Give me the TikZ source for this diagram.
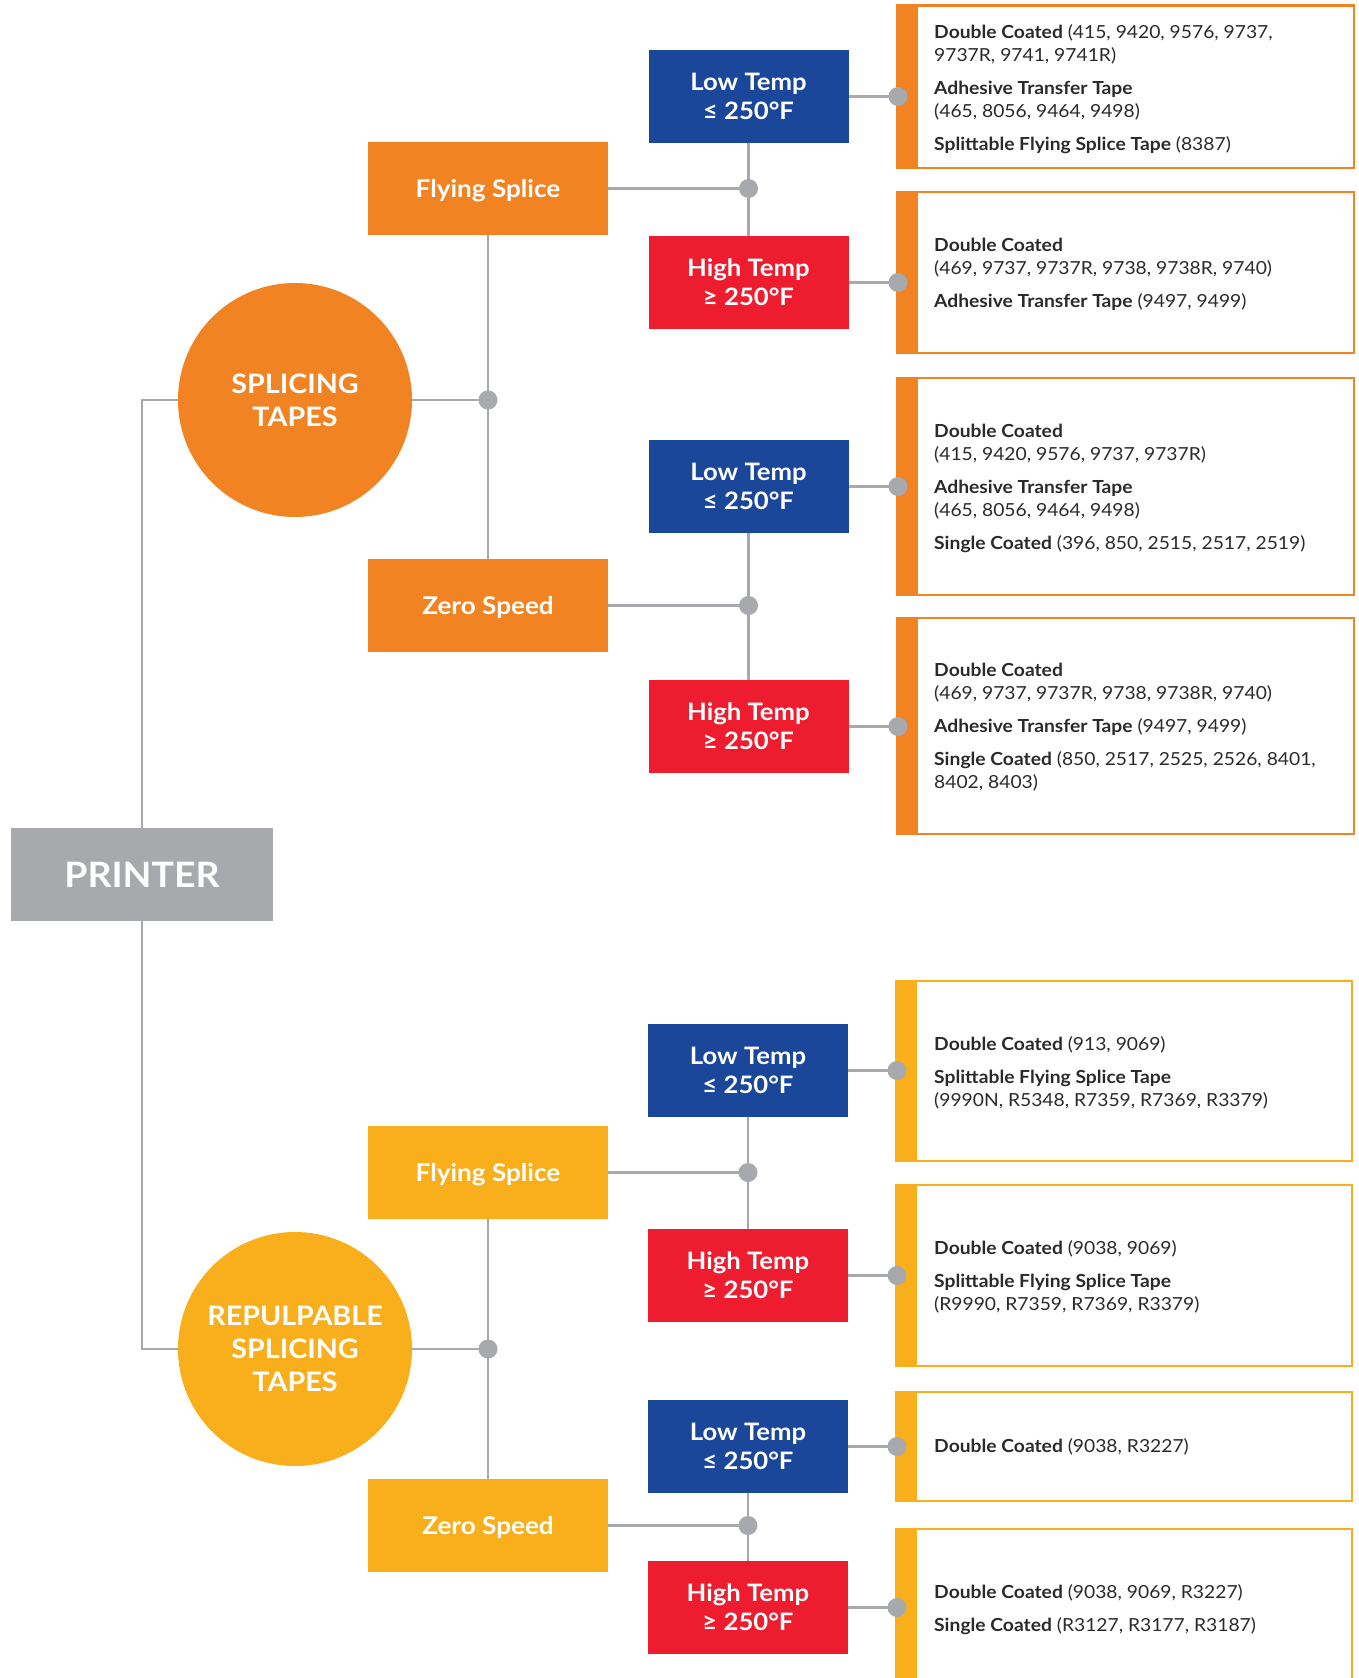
\documentclass[tikz,border=0pt]{standalone}
\usepackage{fontspec}
\setmainfont{Lato}[FakeStretch=1.07]
\definecolor{corange}{HTML}{F28322}
\definecolor{cyellow}{HTML}{F9AE1B}
\definecolor{cblue}{HTML}{1B479B}
\definecolor{cred}{HTML}{ED1C2E}
\definecolor{cgrey}{HTML}{A7A9AC}
\definecolor{ctext}{HTML}{2A2A2A}
\tikzset{
  tempbox/.style={fill=cblue, text=white, minimum width=200pt, minimum height=93pt, inner sep=0pt, align=center, font=\fontsize{24}{29}\selectfont\bfseries},
  hotbox/.style={tempbox, fill=cred},
  catbox/.style={fill=#1, text=white, minimum width=240pt, minimum height=93pt, inner sep=0pt, text depth=0pt, font=\fontsize{24.4}{28}\selectfont\bfseries},
  bigdisc/.style={circle, fill=#1, minimum size=234pt, inner sep=0pt, text=white, align=center, font=\fontsize{26.8}{33}\selectfont\bfseries},
  prbox/.style={fill=cgrey, text=white, minimum width=262pt, minimum height=93pt, inner sep=0pt, text depth=0pt, font=\fontsize{35}{40}\selectfont\bfseries},
  conn/.style={draw=cgrey, line width=2.7pt},
  gdot/.style={circle, fill=cgrey, minimum size=19pt, inner sep=0pt},
  ibox/.style={draw=#1, line width=2.5pt, inner sep=0pt},
  infotext/.style={anchor=west, align=left, text=ctext, inner sep=0pt, font=\fontsize{18}{23}\selectfont},
}
\begin{document}
\begin{tikzpicture}[x=1pt,y=-1pt]
\useasboundingbox (0,0) rectangle (1358,1678);
\clip (0,0) rectangle (1358,1678);

% ---------- info boxes ----------
\node[ibox=corange, minimum width=457pt, minimum height=162.5pt] (b1) at (1125.5,86.75) {};
\node[ibox=corange, minimum width=457pt, minimum height=161pt] (b2) at (1125.5,272.5) {};
\node[ibox=corange, minimum width=457pt, minimum height=217pt] (b3) at (1125.5,486.5) {};
\node[ibox=corange, minimum width=457pt, minimum height=216pt] (b4) at (1125.5,726) {};
\node[ibox=cyellow, minimum width=456pt, minimum height=180pt] (b5) at (1124,1071) {};
\node[ibox=cyellow, minimum width=456pt, minimum height=181pt] (b6) at (1124,1275.5) {};
\node[ibox=cyellow, minimum width=456pt, minimum height=109pt] (b7) at (1124,1446.5) {};
\node[ibox=cyellow, minimum width=456pt, minimum height=231pt] (b8) at (1124,1644.5) {};
\foreach \b/\c in {b1/corange,b2/corange,b3/corange,b4/corange,b5/cyellow,b6/cyellow,b7/cyellow,b8/cyellow}
  \fill[\c] (\b.north west) rectangle ([xshift=22pt]\b.south west);

\node[infotext] (t1) at (934,89) {\textbf{Double Coated} (415, 9420, 9576, 9737,\\9737R, 9741, 9741R)\\[10pt]\textbf{Adhesive Transfer Tape}\\(465, 8056, 9464, 9498)\\[10pt]\textbf{Splittable Flying Splice Tape} (8387)};
\node[infotext] (t2) at (934,274) {\textbf{Double Coated}\\(469, 9737, 9737R, 9738, 9738R, 9740)\\[10pt]\textbf{Adhesive Transfer Tape} (9497, 9499)};
\node[infotext] (t3) at (934,488) {\textbf{Double Coated}\\(415, 9420, 9576, 9737, 9737R)\\[10pt]\textbf{Adhesive Transfer Tape}\\(465, 8056, 9464, 9498)\\[10pt]\textbf{Single Coated} (396, 850, 2515, 2517, 2519)};
\node[infotext] (t4) at (934,727) {\textbf{Double Coated}\\(469, 9737, 9737R, 9738, 9738R, 9740)\\[10pt]\textbf{Adhesive Transfer Tape} (9497, 9499)\\[10pt]\textbf{Single Coated} (850, 2517, 2525, 2526, 8401,\\8402, 8403)};
\node[infotext] (t5) at (934,1073) {\textbf{Double Coated} (913, 9069)\\[10pt]\textbf{Splittable Flying Splice Tape}\\(9990N, R5348, R7359, R7369, R3379)};
\node[infotext] (t6) at (934,1277) {\textbf{Double Coated} (9038, 9069)\\[10pt]\textbf{Splittable Flying Splice Tape}\\(R9990, R7359, R7369, R3379)};
\node[infotext] (t7) at (934,1447) {\textbf{Double Coated} (9038, R3227)};
\node[infotext] (t8) at (934,1610) {\textbf{Double Coated} (9038, 9069, R3227)\\[10pt]\textbf{Single Coated} (R3127, R3177, R3187)};

% ---------- main nodes ----------
\node[prbox] (pr) at (142,874.5) {PRINTER};
\node[bigdisc=corange] (sp) at (295,400) {SPLICING\\TAPES};
\node[bigdisc=cyellow] (rp) at (295,1349) {REPULPABLE\\SPLICING\\TAPES};

\node[catbox=corange] (fs1) at (488,188.5) {Flying Splice};
\node[catbox=corange] (zs1) at (488,605.5) {Zero Speed};
\node[catbox=cyellow] (fs2) at (488,1172.5) {Flying Splice};
\node[catbox=cyellow] (zs2) at (488,1525.5) {Zero Speed};

\node[tempbox] (lt1) at (748.5,96.5) {Low Temp\\≤ 250°F};
\node[hotbox]  (ht1) at (748.5,282.5) {High Temp\\≥ 250°F};
\node[tempbox] (lt2) at (748.5,486.5) {Low Temp\\≤ 250°F};
\node[hotbox]  (ht2) at (748.5,726.5) {High Temp\\≥ 250°F};
\node[tempbox] (lt3) at (748,1070.5) {Low Temp\\≤ 250°F};
\node[hotbox]  (ht3) at (748,1275.5) {High Temp\\≥ 250°F};
\node[tempbox] (lt4) at (748,1446.5) {Low Temp\\≤ 250°F};
\node[hotbox]  (ht4) at (748,1607.5) {High Temp\\≥ 250°F};

% junction coordinates
\coordinate (j0) at (fs1.south |- sp.east);
\coordinate (j1) at (lt1.south |- fs1.east);
\coordinate (j2) at (lt2.south |- zs1.east);
\coordinate (j3) at (fs2.south |- rp.east);
\coordinate (j4) at (lt3.south |- fs2.east);
\coordinate (j5) at (lt4.south |- zs2.east);
\coordinate (d1) at (898,96.5);
\coordinate (d2) at (898,282.5);
\coordinate (d3) at (898,486.5);
\coordinate (d4) at (898,726.5);
\coordinate (d5) at (897,1070.5);
\coordinate (d6) at (897,1275.5);
\coordinate (d7) at (897,1446.5);
\coordinate (d8) at (897,1607.5);

% ---------- connectors ----------
\draw[conn] (sp.west) -| (pr.north);
\draw[conn] (pr.south) |- (rp.west);
\draw[conn] (sp.east) -- (j0);
\draw[conn] (rp.east) -- (j3);
\draw[conn] (fs1.south) -- (zs1.north);
\draw[conn] (fs2.south) -- (zs2.north);
\draw[conn] (fs1.east) -- (j1);
\draw[conn] (zs1.east) -- (j2);
\draw[conn] (fs2.east) -- (j4);
\draw[conn] (zs2.east) -- (j5);
\draw[conn] (lt1.south) -- (ht1.north);
\draw[conn] (lt2.south) -- (ht2.north);
\draw[conn] (lt3.south) -- (ht3.north);
\draw[conn] (lt4.south) -- (ht4.north);
\draw[conn] (lt1.east) -- (d1);
\draw[conn] (ht1.east) -- (d2);
\draw[conn] (lt2.east) -- (d3);
\draw[conn] (ht2.east) -- (d4);
\draw[conn] (lt3.east) -- (d5);
\draw[conn] (ht3.east) -- (d6);
\draw[conn] (lt4.east) -- (d7);
\draw[conn] (ht4.east) -- (d8);

% ---------- dots ----------
\foreach \p in {j0,j1,j2,j3,j4,j5,d1,d2,d3,d4,d5,d6,d7,d8}
  \node[gdot] at (\p) {};
\end{tikzpicture}
\end{document}
